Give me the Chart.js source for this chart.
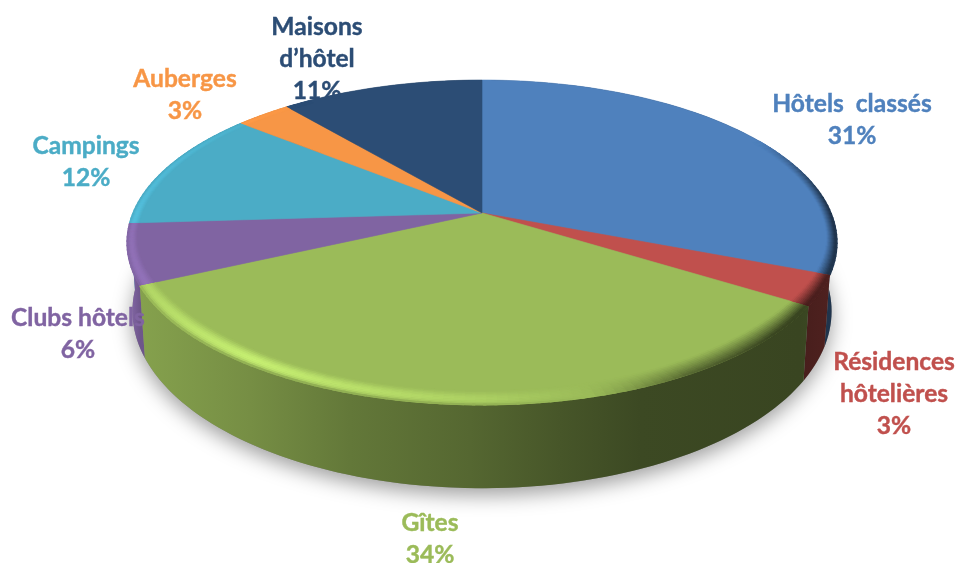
<!DOCTYPE html>
<html lang="fr">
<head>
<meta charset="utf-8">
<title>Répartition des hébergements</title>
<style>
html,body{margin:0;padding:0;background:#fff;}
canvas{display:block;filter:blur(0.4px);}
</style>
<script src="https://cdn.jsdelivr.net/npm/chart.js@4"></script>
</head>
<body>
<canvas id="c" width="957" height="563"></canvas>
<script>
// ---- data ----
const categories = ["Hôtels  classés", "Résidences hôtelières", "Gîtes", "Clubs hôtels", "Campings", "Auberges", "Maisons d’hôtel"];
const shares = [31, 3, 34, 6, 12, 3, 11];
const labelLines = [["Hôtels  classés"], ["Résidences", "hôtelières"], ["Gîtes"], ["Clubs hôtels"], ["Campings"], ["Auberges"], ["Maisons", "d’hôtel"]];
const sliceColors = ["#4f81bd", "#c0504d", "#9bbb59", "#8064a2", "#4bacc6", "#f79646", "#2c4d75"];
const labelColors = ["#4f81bd", "#c0504d", "#9bbb59", "#8064a2", "#4bacc6", "#f79646", "#2c4d75"];

// ---- layout of the tilted disc and the label blocks ----
const labelAnchors = [[852, 104], [894, 362], [430, 523], [78, 318], [86, 146], [185, 79], [317, 27]];
const LINE_H = 32;
const cx = 482, cy = 213, A = 349, B = 157.1, K = 0.1815;
const FLOOR = {sx: 0.985, sy: 1.09, dz: 66};
const RIM_LAYERS = 10, STEP = Math.PI / 120;

const hex = c => [1, 3, 5].map(i => parseInt(c.substr(i, 2), 16));
const rgb = a => `rgb(${a.map(v => Math.max(0, Math.min(255, Math.round(v)))).join(",")})`;
const mix = (a, b, t) => a.map((v, i) => v + (b[i] - v) * t);
const smooth = (a, b, t) => { const x = Math.max(0, Math.min(1, (t - a) / (b - a))); return x * x * (3 - 2 * x); };
function table(tbl, x) {
  if (x <= tbl[0][0]) return tbl[0][1];
  for (let i = 1; i < tbl.length; i++) if (x <= tbl[i][0]) {
    const [x0, y0] = tbl[i - 1], [x1, y1] = tbl[i];
    return y0 + (y1 - y0) * (x - x0) / (x1 - x0);
  }
  return tbl[tbl.length - 1][1];
}
// wall brightness across the picture, from lit left to dark right
const WALL = [[125, 1.12], [140, 0.86], [250, 0.76], [350, 0.64], [470, 0.55], [560, 0.46], [640, 0.39], [800, 0.37], [840, 0.42]];
// rim light around the disc, in degrees clockwise from the top
const RIM = [[0, 0], [60, 0], [80, -0.7], [95, -1], [122, -1], [150, -0.6], [165, 0], [180, 0.4], [215, 1], [245, 0.5], [266, 0.4], [300, 0.2], [325, 0], [360, 0]];

function topPt(a, r) {
  const u = Math.cos(a) * r, v = Math.sin(a) * r, d = 1 - K * v;
  return [cx + A * u / d, cy + B * v / d];
}
function floorPt(a) {
  const u = Math.cos(a), v = Math.sin(a), d = 1 - K * v;
  return [cx + A * FLOOR.sx * u / d, cy + B * FLOOR.sy * v / d + FLOOR.dz];
}
function rimWidth(a) {
  return 0.028 + 0.034 * smooth(0.1, 0.8, Math.sin(a));
}
function trace(ctx, pts) {
  ctx.beginPath();
  pts.forEach((p, i) => i ? ctx.lineTo(p[0], p[1]) : ctx.moveTo(p[0], p[1]));
  ctx.closePath();
}
function angles(s, e) {
  const out = [];
  for (let a = s; a < e; a += STEP) out.push(a);
  out.push(e);
  return out;
}
function wallGradient(ctx, base) {
  const g = ctx.createLinearGradient(125, 0, 840, 0);
  WALL.forEach(([x, f]) => g.addColorStop((x - 125) / 715, rgb(base.map(v => v * f))));
  return g;
}

const disc3d = {
  id: "disc3d",
  beforeDatasetsDraw(chart) {
    const ctx = chart.ctx;
    const arcs = chart.getDatasetMeta(0).data;
    ctx.save();
    // soft shadow under the disc
    ctx.save();
    ctx.shadowColor = "rgba(0,0,0,0.38)";
    ctx.shadowBlur = 20;
    ctx.shadowOffsetY = 7;
    ctx.fillStyle = "#888";
    trace(ctx, angles(0, Math.PI * 2).map(floorPt));
    ctx.fill();
    ctx.restore();

    // walls, far ones first
    const order = arcs.map((a, i) => i).sort((p, q) => {
      const mid = i => Math.sin((arcs[i].startAngle + arcs[i].endAngle) / 2);
      return mid(p) - mid(q);
    });
    order.forEach(i => {
      const arc = arcs[i], base = hex(sliceColors[i]);
      const as = angles(arc.startAngle, arc.endAngle);
      trace(ctx, as.map(a => topPt(a, 1)).concat(as.slice().reverse().map(floorPt)));
      ctx.fillStyle = wallGradient(ctx, base);
      ctx.fill();
    });

    // top faces
    arcs.forEach((arc, i) => {
      const as = angles(arc.startAngle, arc.endAngle);
      trace(ctx, [[cx, cy]].concat(as.map(a => topPt(a, 1))));
      ctx.fillStyle = sliceColors[i];
      ctx.strokeStyle = sliceColors[i];
      ctx.lineWidth = 0.6;
      ctx.fill();
      ctx.stroke();
    });

    // rounded rim
    arcs.forEach((arc, i) => {
      const base = hex(sliceColors[i]);
      const glow = base.map(v => v * 1.28);
      for (let l = 0; l < RIM_LAYERS; l++) {
        const t = (l + 0.5) / RIM_LAYERS;
        for (let a = arc.startAngle; a < arc.endAngle - 1e-4; a += STEP) {
          const b = Math.min(a + STEP, arc.endAngle);
          const over = Math.min(b + STEP * 0.3, arc.endAngle);
          const w = rimWidth((a + b) / 2);
          const r0 = 1 - w * (1 - l / RIM_LAYERS);
          const r1 = 1 - w * (1 - (l + 1) / RIM_LAYERS);
          let deg = ((a + b) / 2 + Math.PI / 2) * 180 / Math.PI;
          deg = (deg + 360) % 360;
          const h = table(RIM, deg);
          if (h === 0) continue;
          const pm = topPt((a + b) / 2, r1);
          const wall = base.map(v => v * table(WALL, pm[0]));
          let col;
          if (h > 0) {
            col = mix(base, glow, h * Math.sin(Math.PI * Math.pow(t, 1.3)));
            col = mix(col, wall, 0.55 * h * smooth(0.8, 1.05, t));
          } else {
            col = mix(base, wall, Math.min(1, -h * Math.pow(t, 1.1) * 1.25));
          }
          trace(ctx, [topPt(a, r0), topPt(over, r0), topPt(over, r1 + 0.002), topPt(a, r1 + 0.002)]);
          ctx.fillStyle = rgb(col);
          ctx.fill();
        }
      }
    });
    ctx.restore();
    return false; // the pie has been drawn through its arc elements above
  },
  afterDraw(chart) {
    const ctx = chart.ctx;
    const data = chart.data.datasets[0].data;
    ctx.save();
    ctx.font = "bold 24.6px Lato, Carlito, sans-serif";
    ctx.textAlign = "center";
    ctx.textBaseline = "middle";
    ctx.lineWidth = 0.4;
    labelLines.forEach((lines, i) => {
      ctx.fillStyle = labelColors[i];
      ctx.strokeStyle = labelColors[i];
      const [x, y] = labelAnchors[i];
      lines.concat([data[i] + "%"]).forEach((s, j) => {
        ctx.fillText(s, x, y + j * LINE_H);
        ctx.strokeText(s, x, y + j * LINE_H);
      });
    });
    ctx.restore();
  }
};

new Chart(document.getElementById("c"), {
  type: "pie",
  data: {
    labels: categories,
    datasets: [{ data: shares, backgroundColor: sliceColors, borderWidth: 0 }]
  },
  options: {
    responsive: false,
    animation: false,
    rotation: 0,
    plugins: { legend: { display: false }, tooltip: { enabled: false } }
  },
  plugins: [disc3d]
});
</script>
</body>
</html>
